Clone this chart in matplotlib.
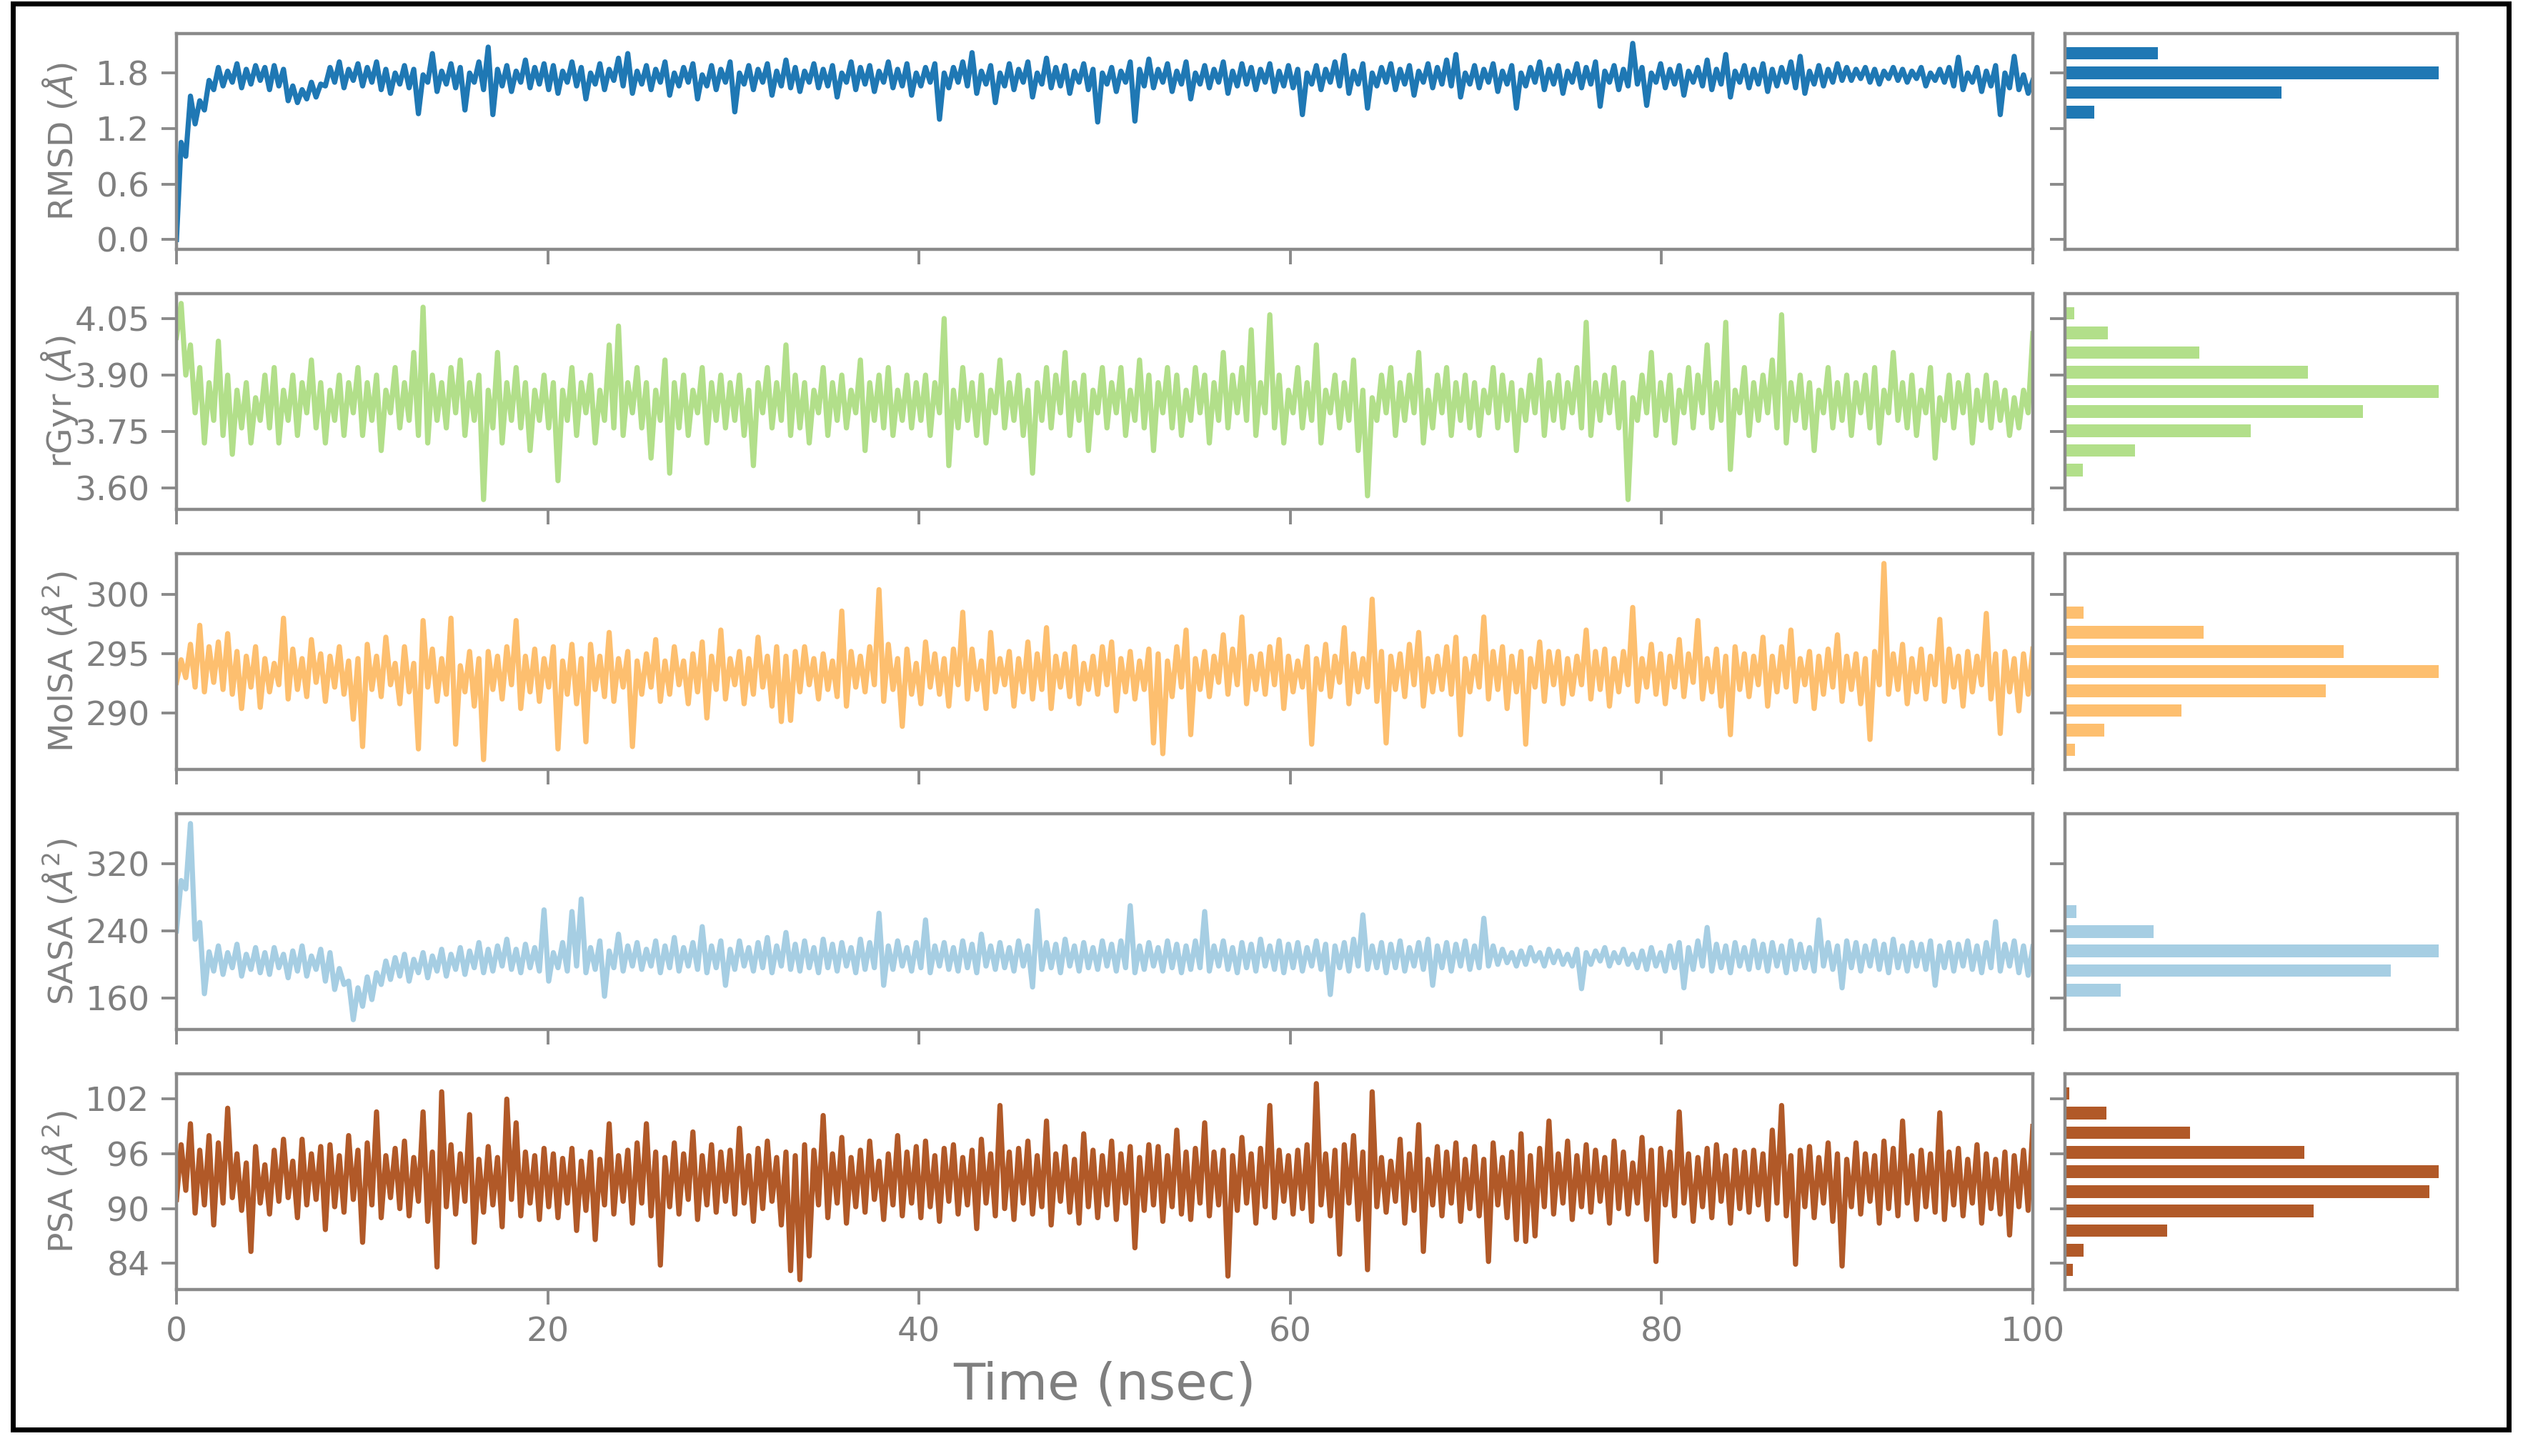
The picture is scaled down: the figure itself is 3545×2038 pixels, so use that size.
import numpy as np
import matplotlib
matplotlib.use("Agg")

import matplotlib.pyplot as plt
from matplotlib.patches import Rectangle
from matplotlib.ticker import FormatStrFormatter


# trajectory values: troughs and peaks, one pair per 0.5 ns (0 .. 100 ns)
rmsdLow = [0.00, 0.90, 1.25, 1.40, 1.62, 1.66, 1.70, 1.64, 1.68, 1.72,
	1.62, 1.66, 1.50, 1.48, 1.52, 1.54, 1.66, 1.70, 1.64, 1.72,
	1.66, 1.70, 1.62, 1.58, 1.68, 1.64, 1.36, 1.70, 1.60, 1.68,
	1.64, 1.40, 1.70, 1.62, 1.35, 1.66, 1.60, 1.70, 1.64, 1.68,
	1.62, 1.58, 1.70, 1.66, 1.52, 1.68, 1.62, 1.72, 1.66, 1.58,
	1.68, 1.62, 1.70, 1.56, 1.66, 1.70, 1.52, 1.66, 1.62, 1.70,
	1.38, 1.68, 1.62, 1.70, 1.56, 1.66, 1.64, 1.60, 1.70, 1.64,
	1.66, 1.54, 1.70, 1.62, 1.68, 1.60, 1.70, 1.64, 1.66, 1.56,
	1.66, 1.70, 1.30, 1.64, 1.70, 1.66, 1.58, 1.68, 1.48, 1.66,
	1.62, 1.70, 1.54, 1.68, 1.64, 1.66, 1.58, 1.70, 1.62, 1.27,
	1.68, 1.60, 1.70, 1.28, 1.66, 1.64, 1.70, 1.60, 1.68, 1.52,
	1.68, 1.64, 1.70, 1.58, 1.66, 1.68, 1.62, 1.70, 1.60, 1.66,
	1.64, 1.35, 1.68, 1.62, 1.70, 1.66, 1.58, 1.68, 1.42, 1.66,
	1.70, 1.62, 1.68, 1.56, 1.70, 1.64, 1.68, 1.66, 1.54, 1.68,
	1.64, 1.70, 1.60, 1.68, 1.42, 1.66, 1.70, 1.62, 1.68, 1.58,
	1.70, 1.64, 1.68, 1.44, 1.70, 1.62, 1.66, 1.68, 1.45, 1.70,
	1.64, 1.68, 1.56, 1.70, 1.66, 1.62, 1.68, 1.54, 1.70, 1.64,
	1.68, 1.60, 1.66, 1.70, 1.64, 1.58, 1.68, 1.66, 1.70, 1.72,
	1.72, 1.74, 1.70, 1.68, 1.74, 1.72, 1.70, 1.74, 1.66, 1.72,
	1.70, 1.66, 1.62, 1.70, 1.60, 1.66, 1.35, 1.64, 1.62, 1.58]
rmsdHigh = [1.05, 1.55, 1.50, 1.72, 1.86, 1.82, 1.90, 1.84, 1.88, 1.86,
	1.88, 1.84, 1.66, 1.62, 1.70, 1.68, 1.86, 1.92, 1.84, 1.90,
	1.86, 1.92, 1.84, 1.80, 1.88, 1.84, 1.78, 2.01, 1.82, 1.90,
	1.86, 1.80, 1.92, 2.08, 1.84, 1.88, 1.82, 1.94, 1.86, 1.90,
	1.88, 1.82, 1.92, 1.86, 1.80, 1.90, 1.84, 1.96, 2.01, 1.82,
	1.88, 1.84, 1.92, 1.80, 1.86, 1.90, 1.78, 1.88, 1.84, 1.92,
	1.80, 1.88, 1.84, 1.90, 1.82, 1.94, 1.86, 1.82, 1.90, 1.84,
	1.88, 1.80, 1.92, 1.86, 1.88, 1.82, 1.92, 1.84, 1.90, 1.80,
	1.86, 1.90, 1.80, 1.86, 1.92, 2.02, 1.82, 1.88, 1.80, 1.90,
	1.84, 1.92, 1.80, 1.96, 1.86, 1.88, 1.82, 1.90, 1.84, 1.80,
	1.86, 1.82, 1.92, 1.84, 1.95, 1.84, 1.90, 1.82, 1.92, 1.80,
	1.88, 1.84, 1.92, 1.82, 1.90, 1.86, 1.84, 1.90, 1.82, 1.88,
	1.84, 1.80, 1.88, 1.84, 1.92, 1.99, 1.82, 1.90, 1.80, 1.86,
	1.90, 1.84, 1.88, 1.82, 1.90, 1.86, 1.94, 2.00, 1.80, 1.88,
	1.84, 1.90, 1.82, 1.88, 1.80, 1.86, 1.92, 1.84, 1.88, 1.82,
	1.90, 1.86, 1.92, 1.82, 1.88, 1.84, 2.12, 1.86, 1.80, 1.90,
	1.84, 1.88, 1.82, 1.86, 1.94, 1.84, 2.00, 1.82, 1.88, 1.84,
	1.90, 1.84, 1.86, 1.92, 1.98, 1.82, 1.88, 1.84, 1.90, 1.86,
	1.84, 1.86, 1.84, 1.82, 1.86, 1.84, 1.82, 1.86, 1.80, 1.84,
	1.86, 1.97, 1.80, 1.86, 1.82, 1.88, 1.80, 1.98, 1.78, 1.72]

rgyrLow = [4.00, 3.90, 3.80, 3.72, 3.78, 3.74, 3.69, 3.76, 3.72, 3.78,
	3.76, 3.72, 3.78, 3.74, 3.80, 3.76, 3.72, 3.78, 3.74, 3.80,
	3.74, 3.78, 3.70, 3.80, 3.76, 3.78, 3.74, 3.72, 3.78, 3.76,
	3.80, 3.74, 3.78, 3.57, 3.76, 3.72, 3.78, 3.76, 3.70, 3.78,
	3.76, 3.62, 3.78, 3.74, 3.80, 3.72, 3.78, 3.76, 3.74, 3.80,
	3.76, 3.68, 3.78, 3.64, 3.76, 3.74, 3.80, 3.72, 3.78, 3.76,
	3.78, 3.74, 3.66, 3.80, 3.76, 3.78, 3.74, 3.76, 3.72, 3.80,
	3.74, 3.78, 3.76, 3.80, 3.70, 3.78, 3.76, 3.74, 3.78, 3.76,
	3.78, 3.74, 3.80, 3.66, 3.76, 3.78, 3.74, 3.72, 3.80, 3.76,
	3.78, 3.74, 3.64, 3.78, 3.76, 3.80, 3.74, 3.78, 3.70, 3.80,
	3.76, 3.80, 3.74, 3.78, 3.76, 3.70, 3.80, 3.76, 3.74, 3.78,
	3.80, 3.72, 3.78, 3.76, 3.80, 3.78, 3.74, 3.80, 3.76, 3.72,
	3.80, 3.76, 3.78, 3.72, 3.80, 3.76, 3.78, 3.70, 3.58, 3.78,
	3.80, 3.74, 3.78, 3.80, 3.72, 3.76, 3.80, 3.74, 3.78, 3.76,
	3.74, 3.80, 3.76, 3.78, 3.70, 3.78, 3.80, 3.74, 3.78, 3.76,
	3.80, 3.76, 3.74, 3.78, 3.80, 3.76, 3.57, 3.78, 3.80, 3.74,
	3.78, 3.72, 3.80, 3.76, 3.80, 3.76, 3.78, 3.65, 3.80, 3.74,
	3.78, 3.80, 3.76, 3.72, 3.78, 3.76, 3.70, 3.80, 3.76, 3.78,
	3.74, 3.80, 3.76, 3.72, 3.80, 3.78, 3.76, 3.74, 3.80, 3.68,
	3.78, 3.76, 3.80, 3.72, 3.78, 3.76, 3.78, 3.74, 3.76, 3.80]
rgyrHigh = [4.09, 3.98, 3.92, 3.88, 3.99, 3.90, 3.86, 3.88, 3.84, 3.90,
	3.92, 3.86, 3.90, 3.88, 3.94, 3.88, 3.86, 3.90, 3.88, 3.92,
	3.88, 3.90, 3.86, 3.92, 3.88, 3.96, 4.08, 3.90, 3.88, 3.92,
	3.94, 3.88, 3.90, 3.86, 3.96, 3.88, 3.92, 3.88, 3.86, 3.90,
	3.88, 3.86, 3.92, 3.88, 3.90, 3.86, 3.98, 4.03, 3.88, 3.92,
	3.88, 3.86, 3.94, 3.88, 3.90, 3.86, 3.92, 3.88, 3.90, 3.88,
	3.90, 3.86, 3.88, 3.92, 3.88, 3.98, 3.90, 3.88, 3.86, 3.92,
	3.88, 3.90, 3.86, 3.94, 3.88, 3.90, 3.92, 3.86, 3.90, 3.88,
	3.90, 3.88, 4.05, 3.86, 3.92, 3.88, 3.90, 3.86, 3.94, 3.88,
	3.90, 3.86, 3.88, 3.92, 3.90, 3.96, 3.88, 3.90, 3.86, 3.92,
	3.88, 3.92, 3.86, 3.94, 3.90, 3.88, 3.92, 3.90, 3.86, 3.92,
	3.90, 3.88, 3.96, 3.90, 3.92, 4.02, 3.88, 4.06, 3.90, 3.86,
	3.92, 3.88, 3.98, 3.86, 3.90, 3.88, 3.94, 3.86, 3.84, 3.90,
	3.92, 3.88, 3.90, 3.96, 3.86, 3.90, 3.92, 3.88, 3.90, 3.88,
	3.86, 3.92, 3.90, 3.88, 3.86, 3.90, 3.94, 3.88, 3.90, 3.88,
	3.92, 4.04, 3.88, 3.90, 3.92, 3.88, 3.84, 3.90, 3.96, 3.88,
	3.90, 3.86, 3.92, 3.90, 3.98, 3.88, 4.04, 3.86, 3.92, 3.88,
	3.90, 3.94, 4.06, 3.88, 3.90, 3.88, 3.86, 3.92, 3.88, 3.90,
	3.88, 3.90, 3.92, 3.86, 3.96, 3.88, 3.90, 3.86, 3.92, 3.84,
	3.90, 3.88, 3.90, 3.86, 3.90, 3.88, 3.86, 3.84, 3.86, 4.01]

molsaLow = [292.6, 293.0, 292.2, 291.8, 292.6, 292.0, 291.6, 290.4, 292.2, 290.5,
	291.8, 292.4, 291.2, 292.0, 291.4, 292.6, 291.0, 292.2, 291.6, 289.5,
	287.2, 292.0, 291.4, 292.4, 290.8, 291.8, 287.0, 292.2, 291.0, 291.6,
	287.4, 291.8, 290.6, 286.1, 292.0, 291.2, 292.4, 290.4, 291.8, 291.0,
	292.2, 287.0, 291.6, 290.8, 287.6, 292.0, 291.4, 291.0, 292.2, 287.2,
	291.6, 292.2, 291.0, 291.6, 292.4, 290.8, 291.8, 289.6, 292.0, 291.2,
	292.4, 290.8, 291.6, 292.2, 290.6, 289.3, 289.4, 291.8, 292.4, 291.2,
	292.0, 291.4, 290.6, 292.2, 291.8, 292.4, 291.0, 292.0, 288.9, 291.6,
	290.8, 292.2, 291.6, 290.6, 292.4, 291.2, 292.0, 290.4, 291.8, 292.4,
	290.6, 291.8, 291.2, 292.0, 290.4, 292.2, 291.4, 290.8, 292.0, 291.6,
	292.4, 290.2, 291.8, 291.2, 292.0, 287.5, 286.6, 291.4, 292.2, 288.2,
	292.0, 291.4, 292.6, 291.6, 292.4, 290.8, 292.0, 291.6, 292.4, 290.4,
	291.8, 292.2, 287.4, 292.0, 291.4, 292.6, 290.8, 291.8, 292.2, 291.0,
	287.5, 292.0, 291.4, 292.4, 290.6, 291.8, 292.0, 291.6, 288.2, 291.8,
	292.2, 291.2, 292.0, 290.4, 291.8, 287.4, 292.2, 291.0, 292.4, 290.8,
	291.6, 292.4, 291.2, 292.0, 290.6, 291.8, 292.4, 291.0, 292.2, 291.6,
	290.8, 292.2, 291.4, 292.6, 291.2, 291.8, 290.6, 288.2, 292.0, 291.4,
	292.4, 290.6, 291.8, 292.2, 291.0, 292.4, 290.4, 291.6, 292.2, 291.0,
	292.0, 290.8, 287.8, 292.4, 291.6, 292.0, 290.8, 291.8, 291.2, 292.4,
	291.0, 292.2, 290.6, 291.8, 292.4, 291.2, 288.3, 291.8, 290.2, 291.6]
molsaHigh = [294.5, 295.8, 297.4, 295.6, 296.0, 296.7, 295.2, 294.8, 295.6, 294.6,
	294.2, 298.0, 295.4, 294.6, 296.2, 295.0, 294.8, 295.6, 294.4, 294.6,
	295.8, 294.8, 296.4, 294.2, 295.6, 294.2, 297.8, 295.4, 294.6, 298.0,
	294.0, 295.2, 294.6, 295.2, 294.8, 295.6, 297.8, 294.8, 295.4, 294.6,
	295.6, 294.4, 295.8, 294.6, 295.8, 294.8, 296.8, 294.6, 295.2, 294.4,
	295.0, 296.2, 294.4, 295.6, 294.4, 295.0, 296.0, 294.8, 297.0, 294.6,
	295.2, 294.6, 296.4, 294.8, 295.6, 294.8, 295.2, 295.6, 294.6, 295.0,
	294.4, 298.6, 295.2, 294.8, 295.6, 300.4, 295.8, 294.6, 295.4, 294.2,
	296.0, 295.0, 294.6, 295.4, 298.5, 295.4, 294.4, 296.8, 294.6, 295.2,
	294.6, 296.0, 295.0, 297.2, 294.8, 295.0, 295.6, 294.2, 294.8, 295.6,
	296.0, 294.6, 295.2, 294.4, 295.4, 295.0, 294.4, 295.6, 297.0, 294.6,
	295.2, 294.8, 296.6, 295.4, 298.1, 294.8, 295.0, 295.6, 296.2, 294.8,
	294.4, 295.6, 294.6, 295.8, 294.8, 297.2, 295.0, 294.6, 299.6, 295.2,
	294.8, 295.0, 295.8, 296.8, 294.6, 294.8, 295.6, 296.4, 294.6, 294.8,
	298.1, 295.2, 295.6, 294.8, 295.2, 294.6, 296.0, 295.2, 295.2, 294.6,
	294.8, 297.0, 295.2, 295.4, 294.6, 295.2, 298.9, 294.6, 295.8, 295.0,
	294.8, 296.2, 295.0, 297.8, 294.6, 295.4, 294.8, 295.6, 295.0, 294.8,
	296.4, 294.8, 295.6, 297.0, 294.6, 295.2, 294.8, 295.4, 296.6, 294.8,
	295.0, 294.6, 295.2, 302.6, 295.0, 295.8, 294.6, 295.4, 294.8, 297.9,
	295.4, 294.8, 295.2, 294.8, 298.4, 295.0, 295.2, 294.6, 295.0, 295.4]

sasaLow = [240, 290, 230, 165, 192, 188, 196, 186, 194, 190,
	188, 196, 184, 192, 186, 194, 180, 170, 176, 134,
	150, 158, 176, 182, 186, 180, 190, 184, 192, 186,
	194, 188, 196, 190, 192, 198, 194, 190, 196, 192,
	180, 196, 192, 198, 190, 194, 162, 196, 192, 198,
	194, 198, 190, 196, 192, 198, 194, 190, 196, 175,
	194, 198, 192, 196, 190, 198, 194, 192, 196, 190,
	196, 192, 198, 190, 194, 196, 175, 194, 198, 192,
	196, 190, 198, 194, 192, 196, 190, 198, 194, 196,
	192, 198, 173, 194, 196, 190, 198, 192, 196, 194,
	198, 192, 196, 190, 194, 198, 192, 196, 190, 194,
	196, 192, 198, 194, 190, 196, 192, 198, 194, 190,
	196, 192, 198, 194, 164, 196, 192, 198, 194, 196,
	190, 196, 192, 198, 194, 175, 196, 192, 198, 194,
	196, 198, 200, 202, 198, 200, 204, 198, 202, 200,
	198, 171, 200, 204, 198, 202, 200, 196, 194, 198,
	192, 196, 172, 194, 198, 192, 196, 190, 198, 194,
	196, 192, 198, 190, 194, 196, 192, 198, 194, 172,
	196, 192, 198, 194, 190, 196, 192, 198, 194, 175,
	196, 192, 198, 194, 190, 196, 192, 198, 190, 187]
sasaHigh = [300, 368, 250, 215, 222, 214, 224, 212, 220, 214,
	220, 212, 216, 222, 210, 218, 214, 195, 180, 172,
	185, 190, 204, 208, 212, 206, 214, 210, 218, 212,
	220, 216, 226, 218, 222, 230, 218, 224, 220, 265,
	214, 226, 263, 278, 220, 228, 216, 236, 222, 226,
	218, 228, 222, 232, 220, 226, 245, 222, 228, 218,
	228, 220, 226, 232, 222, 238, 224, 228, 220, 230,
	224, 226, 220, 230, 226, 261, 222, 228, 220, 226,
	253, 222, 226, 220, 228, 224, 236, 222, 226, 220,
	228, 222, 264, 226, 224, 230, 222, 226, 220, 228,
	224, 228, 270, 222, 226, 220, 228, 224, 222, 228,
	263, 222, 228, 220, 226, 224, 230, 222, 228, 224,
	226, 220, 228, 224, 222, 226, 230, 259, 222, 226,
	224, 228, 220, 226, 230, 222, 226, 224, 228, 222,
	255, 222, 218, 214, 216, 220, 214, 218, 216, 212,
	218, 214, 216, 220, 214, 218, 212, 216, 220, 214,
	222, 226, 220, 228, 244, 224, 222, 226, 220, 228,
	224, 226, 222, 228, 224, 220, 253, 226, 222, 228,
	226, 222, 228, 224, 230, 222, 226, 224, 228, 222,
	226, 224, 228, 222, 226, 251, 224, 228, 222, 221]

psaLow = [91.0, 92.0, 89.5, 90.4, 88.2, 90.6, 91.2, 89.8, 85.3, 90.6,
	89.4, 90.8, 91.2, 89.0, 90.4, 91.0, 87.7, 90.2, 89.6, 91.0,
	86.3, 90.4, 89.0, 91.2, 90.0, 89.2, 90.8, 88.6, 83.6, 90.2,
	89.4, 90.8, 86.3, 89.6, 90.4, 88.0, 91.0, 89.2, 90.6, 88.8,
	90.2, 89.0, 90.6, 87.6, 89.8, 86.6, 90.4, 89.4, 90.8, 88.4,
	90.6, 89.2, 83.8, 90.2, 89.4, 91.0, 88.8, 90.4, 89.6, 90.8,
	89.4, 90.6, 88.6, 90.0, 90.8, 88.2, 83.2, 82.2, 84.8, 90.4,
	89.0, 90.6, 88.4, 90.2, 89.6, 91.0, 88.8, 90.4, 89.2, 90.6,
	89.0, 90.2, 88.6, 90.8, 89.4, 90.4, 87.8, 90.6, 89.2, 90.0,
	88.8, 90.6, 89.4, 90.2, 88.2, 90.8, 89.6, 88.4, 90.2, 89.0,
	90.4, 88.8, 90.6, 85.7, 89.8, 90.4, 88.6, 90.2, 89.4, 88.8,
	90.6, 89.2, 90.4, 82.6, 89.8, 90.6, 88.4, 90.2, 89.0, 90.8,
	89.4, 90.0, 88.6, 90.4, 89.2, 85.0, 90.6, 88.8, 83.3, 90.2,
	89.6, 90.8, 88.4, 89.8, 85.3, 90.4, 89.2, 90.6, 88.6, 90.0,
	89.2, 84.2, 90.4, 89.0, 86.6, 86.4, 87.0, 90.2, 89.4, 90.6,
	88.8, 90.2, 89.6, 90.8, 88.4, 90.0, 89.4, 90.6, 88.8, 84.2,
	90.4, 89.2, 90.6, 88.6, 90.2, 89.0, 90.8, 88.4, 90.0, 89.6,
	90.4, 88.8, 90.6, 89.2, 83.9, 90.2, 89.0, 90.6, 88.6, 83.7,
	90.2, 89.4, 90.8, 88.4, 90.0, 89.2, 90.6, 88.8, 90.2, 89.6,
	88.8, 90.4, 89.2, 90.6, 88.4, 90.0, 89.4, 87.1, 90.2, 89.8]
psaHigh = [97.0, 99.3, 96.4, 98.0, 97.2, 101.0, 96.0, 95.0, 96.8, 94.8,
	96.4, 97.6, 95.2, 97.6, 96.0, 96.8, 97.0, 95.8, 98.0, 96.4,
	97.2, 100.6, 95.8, 96.6, 97.4, 95.6, 100.6, 96.2, 102.8, 97.0,
	96.0, 100.3, 95.4, 96.8, 95.6, 102.0, 99.4, 96.2, 95.8, 96.6,
	96.0, 95.5, 96.6, 95.2, 96.2, 95.4, 99.3, 95.8, 96.4, 97.2,
	99.3, 96.2, 95.6, 97.2, 96.0, 98.4, 95.8, 97.0, 96.2, 96.4,
	98.8, 95.8, 96.6, 97.4, 95.6, 96.2, 95.8, 97.0, 96.4, 100.2,
	96.0, 97.8, 95.6, 96.4, 97.4, 95.2, 96.0, 98.0, 96.2, 96.8,
	97.4, 95.8, 96.6, 97.0, 95.6, 96.4, 97.6, 96.0, 101.3, 96.2,
	96.6, 97.4, 95.8, 99.6, 96.0, 96.8, 95.4, 98.2, 96.4, 95.8,
	97.4, 96.0, 96.8, 95.6, 97.0, 96.8, 95.8, 98.6, 96.2, 96.6,
	99.4, 96.2, 96.4, 95.8, 97.8, 96.0, 96.6, 101.3, 96.4, 95.8,
	96.4, 97.0, 103.7, 96.0, 96.4, 97.0, 98.0, 96.2, 102.8, 95.6,
	95.2, 97.6, 96.0, 99.2, 95.4, 96.8, 96.2, 97.2, 95.4, 96.8,
	95.4, 97.2, 95.6, 96.2, 98.2, 95.8, 96.6, 99.6, 96.0, 97.4,
	95.8, 97.0, 96.4, 95.6, 97.4, 96.2, 95.0, 97.8, 96.4, 96.6,
	96.2, 100.6, 96.0, 95.6, 96.6, 97.0, 95.8, 96.4, 96.2, 96.4,
	96.0, 98.6, 101.3, 95.8, 96.4, 96.8, 95.6, 97.2, 96.0, 95.4,
	97.2, 96.0, 95.8, 97.4, 96.6, 99.6, 95.8, 96.4, 96.0, 100.5,
	96.2, 96.6, 95.4, 97.0, 96.0, 95.4, 96.2, 95.8, 96.4, 99.0]

# frame counts per bin (10 bins, low -> high)
rmsdCounts = [1, 0, 0, 1, 1, 2, 41, 303, 522, 130]
rgyrCounts = [1, 13, 51, 135, 217, 272, 177, 98, 31, 7]
molsaCounts = [8, 32, 94, 211, 302, 225, 112, 15, 1, 1]
sasaCounts = [2, 65, 379, 435, 103, 13, 1, 1, 1, 1]
psaCounts = [5, 12, 67, 163, 239, 245, 157, 82, 27, 3]

labels = ["RMSD ($\\AA$)", "rGyr ($\\AA$)", "MolSA ($\\AA^2$)", "SASA ($\\AA^2$)", "PSA ($\\AA^2$)"]
yTicks = [[0.0, 0.6, 1.2, 1.8], [3.60, 3.75, 3.90, 4.05], [290, 295, 300], [160, 240, 320], [84, 90, 96, 102]]
yFormats = ['%.1f', '%.2f', '%d', '%d', '%d']
xTicks = [0, 20, 40, 60, 80, 100]
colours = ['#1f78b4', '#b2df8a', '#fdbf6f', '#a6cee3', '#b15928']

series = [(rmsdLow, rmsdHigh), (rgyrLow, rgyrHigh), (molsaLow, molsaHigh), (sasaLow, sasaHigh), (psaLow, psaHigh)]
counts = [rmsdCounts, rgyrCounts, molsaCounts, sasaCounts, psaCounts]

W, H = 3545, 2038
grey = '#8a8a8a'
textGrey = '#7f7f7f'

plt.rcParams['font.family'] = ['DejaVu Sans']
plt.rcParams['mathtext.fontset'] = 'dejavusans'

fig = plt.figure(figsize=(W / 200, H / 200), dpi=200)

def styleAxes(ax):
	for sp in ax.spines.values():
		sp.set_color(grey)
		sp.set_linewidth(1.6)
	ax.tick_params(direction='out', length=7.5, width=1.4, color=grey,
		labelcolor=textGrey, labelsize=17, pad=6)

# trough, peak, trough, peak ... in time order
def merge(low, high):
	y = np.empty(len(low) + len(high))
	y[0::2] = low
	y[1::2] = high
	return y

top0, step, height = 47, 364, 302
mainAxes = []
for i in range(5):
	top = top0 + i * step
	bottom = 1 - (top + height) / H
	ax = fig.add_axes([247 / W, bottom, (2845 - 247) / W, height / H])
	hx = fig.add_axes([2890 / W, bottom, (3439 - 2890) / W, height / H], sharey=ax)
	y = merge(*series[i])
	t = np.linspace(0, 100, len(y))

	ax.plot(t, y, color=colours[i], lw=2.6)
	ax.set_xlim(0, 100)
	ax.set_xticks(xTicks)
	ax.set_yticks(yTicks[i])
	ax.yaxis.set_major_formatter(FormatStrFormatter(yFormats[i]))
	styleAxes(ax)
	if i < 4:
		ax.tick_params(axis='x', labelbottom=False)
	ax.set_ylabel(labels[i], fontsize=17, color=textGrey)
	ax.yaxis.set_label_coords(-0.052, 0.5)

	edges = np.linspace(y.min(), y.max(), 11)
	centres = (edges[:-1] + edges[1:]) / 2
	hx.hist(centres, bins=edges, weights=counts[i], orientation='horizontal',
		rwidth=0.64, color=colours[i])
	styleAxes(hx)
	hx.tick_params(axis='y', labelleft=False)
	hx.tick_params(axis='x', bottom=False, labelbottom=False)
	mainAxes.append(ax)

mainAxes[-1].set_xlabel("Time (nsec)", fontsize=26, color=textGrey, labelpad=6)

# black frame around the whole figure
fig.patches.append(Rectangle((17.5 / W, 1 - 2001 / H), (3511 - 17.5) / W, (2001 - 5) / H,
	transform=fig.transFigure, fill=False, edgecolor='black', lw=2.5))

plt.savefig("out.png", dpi=200)
